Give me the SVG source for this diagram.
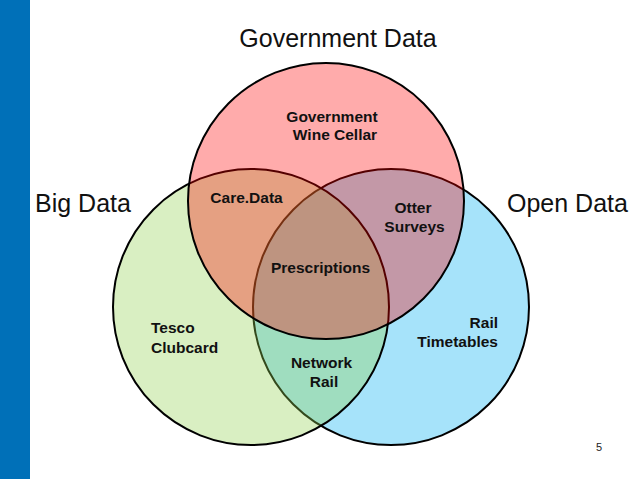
<svg xmlns="http://www.w3.org/2000/svg" width="638" height="479" viewBox="0 0 638 479">
<style>
.c{stroke:#000;stroke-width:2}
.t{font-family:"Liberation Sans",Arial,sans-serif;font-size:25px;fill:#111}
.l{font-family:"Liberation Sans",Arial,sans-serif;font-size:15.5px;font-weight:bold;fill:#111}
.m{text-anchor:middle}
.e{text-anchor:end}
</style>
<rect x="0" y="0" width="638" height="479" fill="#fff"/>
<rect x="0" y="0" width="30" height="479" fill="#0070b8"/>
<g id="open-data"><circle class="c" cx="391" cy="307" r="138" fill="rgba(0,176,240,0.35)"/></g>
<g id="big-data"><circle class="c" cx="251" cy="307" r="138" fill="rgba(146,208,80,0.35)"/></g>
<g id="government-data"><circle class="c" cx="326" cy="201" r="138" fill="rgba(255,0,0,0.33)"/></g>
<g id="titles">
<text class="t m" x="338" y="47">Government Data</text>
<text class="t" x="35" y="212">Big Data</text>
<text class="t" x="507" y="212">Open Data</text>
</g>
<g id="labels">
<text class="l m" x="332" y="122">Government</text>
<text class="l m" x="335" y="140">Wine Cellar</text>
<text class="l m" x="246.5" y="203">Care.Data</text>
<text class="l m" x="413" y="213">Otter</text>
<text class="l m" x="414.5" y="232">Surveys</text>
<text class="l m" x="320.5" y="273">Prescriptions</text>
<text class="l" x="151" y="333">Tesco</text>
<text class="l" x="151" y="353">Clubcard</text>
<text class="l m" x="321.5" y="368">Network</text>
<text class="l m" x="324" y="387">Rail</text>
<text class="l e" x="498" y="328">Rail</text>
<text class="l e" x="498" y="347">Timetables</text>
</g>
<text x="596" y="451" font-family="'Liberation Sans',Arial,sans-serif" font-size="11" fill="#222">5</text>
</svg>
